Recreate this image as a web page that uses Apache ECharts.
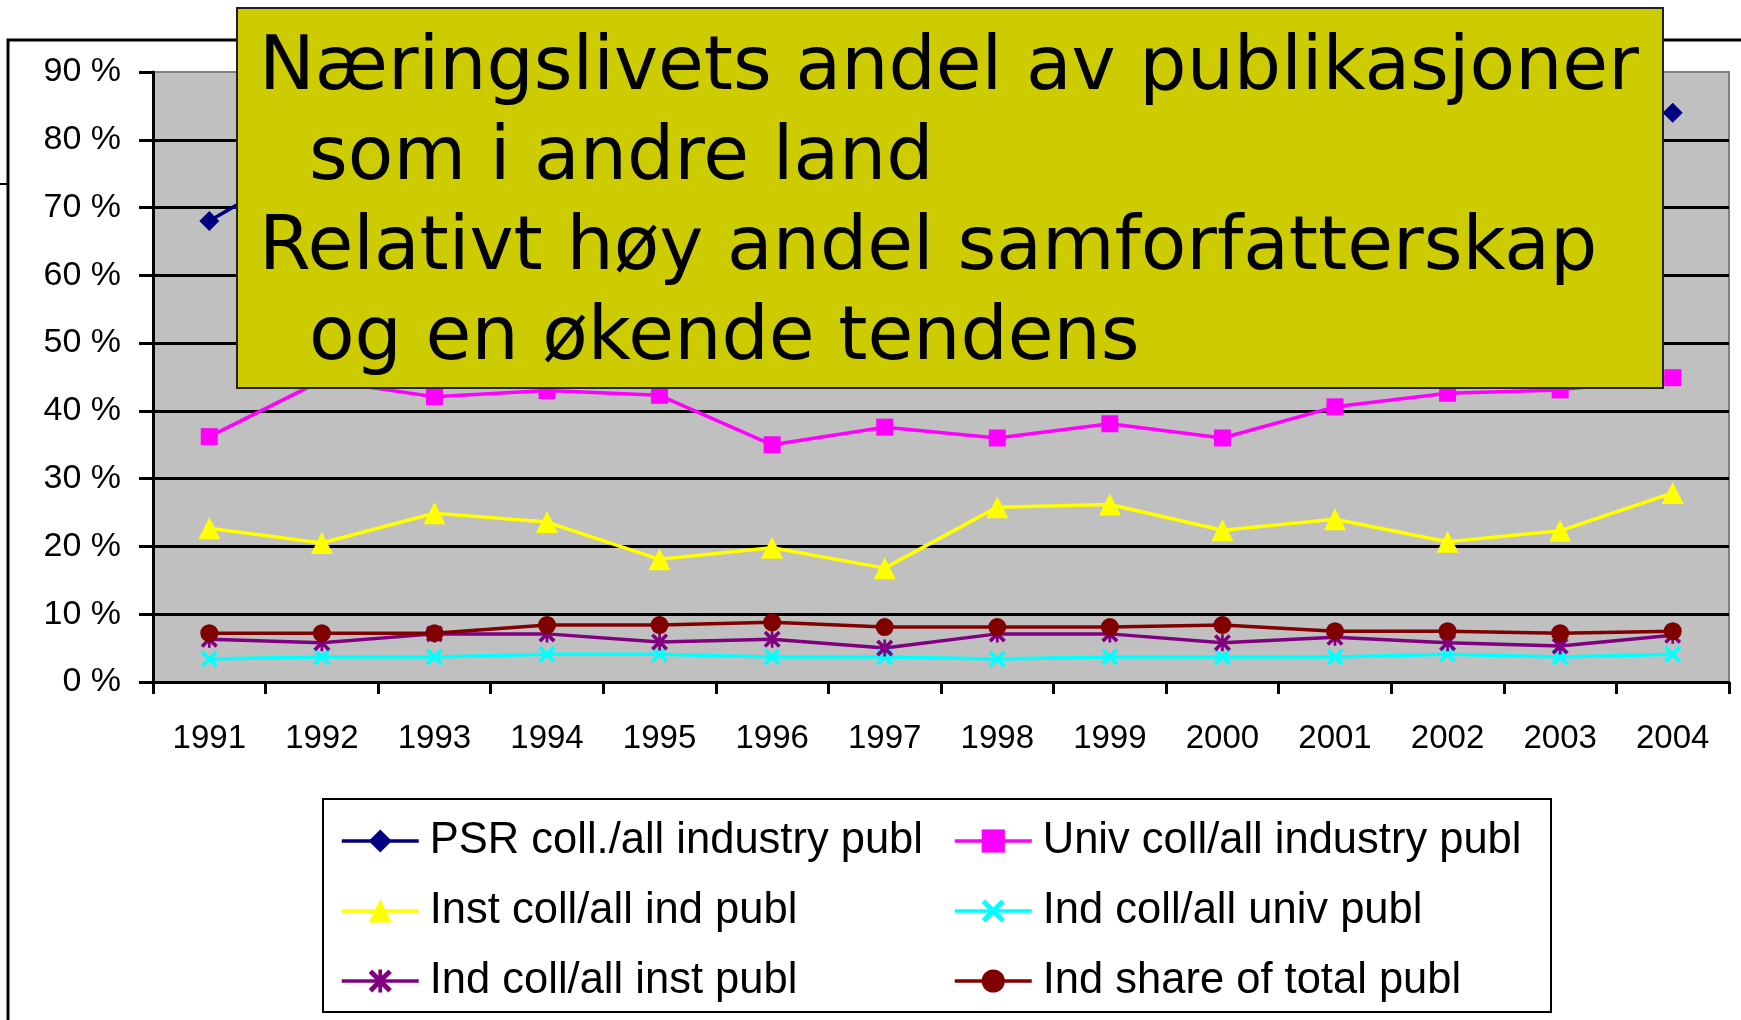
<!DOCTYPE html>
<html>
<head>
<meta charset="utf-8">
<title>Næringslivets andel av publikasjoner</title>
<script src="https://cdn.jsdelivr.net/npm/echarts@6/dist/echarts.min.js"></script>
<style>
  html, body { margin: 0; padding: 0; background: #fff; }
  #chart { width: 1741px; height: 1020px; }
</style>
</head>
<body>
<div id="chart"></div>
<script>
// years on the x axis
var years = ['1991', '1992', '1993', '1994', '1995', '1996', '1997',
             '1998', '1999', '2000', '2001', '2002', '2003', '2004'];

// shares in percent (PSR 1992-2003 is hidden behind the text box)
var psrColl  = [68, 77.7, 77, 78, 79, 77, 79, 78, 80, 79, 81, 82, 83, 84];
var univColl = [36.2, 44.5, 42.1, 43.0, 42.3, 35.0, 37.6, 36.0, 38.1, 36.0, 40.6, 42.6, 43.1, 44.9];
var instColl = [22.7, 20.5, 24.9, 23.6, 18.1, 19.8, 16.8, 25.8, 26.2, 22.4, 24.0, 20.7, 22.3, 27.9];
var indUniv  = [3.4, 3.7, 3.7, 4.1, 4.1, 3.7, 3.7, 3.4, 3.7, 3.7, 3.7, 4.1, 3.7, 4.1];
var indInst  = [6.3, 5.8, 7.1, 7.1, 5.9, 6.3, 5.0, 7.1, 7.1, 5.8, 6.6, 5.8, 5.3, 6.9];
var indShare = [7.2, 7.2, 7.2, 8.4, 8.4, 8.8, 8.1, 8.1, 8.1, 8.4, 7.5, 7.5, 7.2, 7.5];

var names = ['PSR coll./all industry publ', 'Univ coll/all industry publ',
             'Inst coll/all ind publ', 'Ind coll/all univ publ',
             'Ind coll/all inst publ', 'Ind share of total publ'];

var titleLines = ['Næringslivets andel av publikasjoner', 'som i andre land',
                  'Relativt høy andel samforfatterskap', 'og en økende tendens'];

var crossPath = 'path://M0,1.5 L1.5,0 L5,3.5 L8.5,0 L10,1.5 L6.5,5 L10,8.5 L8.5,10 L5,6.5 L1.5,10 L0,8.5 L3.5,5 Z';
var starPath = crossPath + ' M4.2,0 L5.8,0 L5.8,10 L4.2,10 Z';

var chart = echarts.init(document.getElementById('chart'));
var font = '"Liberation Sans", Arial, sans-serif';

function lineSeries(name, data, color, symbol, size) {
  return {
    name: name,
    type: 'line',
    data: data,
    symbol: symbol,
    symbolSize: size,
    showAllSymbol: true,
    lineStyle: { color: color, width: 3.5 },
    itemStyle: { color: color },
    emphasis: { disabled: true }
  };
}

var legendBase = {
  orient: 'vertical',
  top: 819,
  padding: 0,
  itemWidth: 77,
  itemHeight: 29,
  itemGap: 26,
  selectedMode: false,
  lineStyle: { width: 3.5 },
  textStyle: { color: '#000', fontFamily: font, fontSize: 43.5, lineHeight: 43, padding: [0, 0, 0, 6] }
};

var option = {
  animation: false,
  grid: {
    left: 153, right: 12, top: 72, bottom: 338,
    show: true,
    backgroundColor: '#C0C0C0',
    borderColor: '#808080',
    borderWidth: 2
  },
  xAxis: {
    type: 'category',
    data: years,
    boundaryGap: true,
    axisLine: { lineStyle: { color: '#000', width: 3 } },
    axisTick: { show: true, length: 12, lineStyle: { color: '#000', width: 3 } },
    axisLabel: { color: '#000', fontFamily: font, fontSize: 33, margin: 40, interval: 0 },
    splitLine: { show: false }
  },
  yAxis: {
    type: 'value',
    min: 0, max: 90, interval: 10,
    axisLine: { show: true, lineStyle: { color: '#000', width: 3 } },
    axisTick: { show: true, length: 14, lineStyle: { color: '#000', width: 3 } },
    axisLabel: { formatter: '{value} %', color: '#000', fontFamily: font, fontSize: 34, margin: 32 },
    splitLine: { show: true, showMaxLine: false, lineStyle: { color: '#000', width: 3 } }
  },
  legend: [
    Object.assign({}, legendBase, { left: 340, data: [names[0], names[2], names[4]] }),
    Object.assign({}, legendBase, { left: 953, data: [names[1], names[3], names[5]] })
  ],
  series: [
    lineSeries(names[0], psrColl, '#000080', 'diamond', 20),
    lineSeries(names[1], univColl, '#FF00FF', 'rect', 17),
    lineSeries(names[2], instColl, '#FFFF00', 'triangle', 22),
    lineSeries(names[3], indUniv, '#00FFFF', crossPath, 17),
    lineSeries(names[4], indInst, '#800080', starPath, 17),
    lineSeries(names[5], indShare, '#800000', 'circle', 18)
  ],
  graphic: [
    // frame of the embedded chart object
    { type: 'polyline', z: 1, shape: { points: [[8, 1020], [8, 40], [1741, 40]] },
      style: { stroke: '#000', lineWidth: 3, fill: null } },
    { type: 'line', z: 1, shape: { x1: 0, y1: 184, x2: 8, y2: 184 },
      style: { stroke: '#000', lineWidth: 2 } },
    // legend frame
    { type: 'rect', z: 0, shape: { x: 323, y: 799, width: 1228, height: 213 },
      style: { fill: '#fff', stroke: '#000', lineWidth: 2 } },
    // text box on top of the chart
    { type: 'rect', z: 100, shape: { x: 237, y: 8, width: 1426, height: 380 },
      style: { fill: '#CCCC00', stroke: '#222', lineWidth: 2 } },
    { type: 'text', z: 101, x: 259, y: 70,
      style: { text: titleLines[0], font: '74.5px "DejaVu Sans"', fill: '#000', verticalAlign: 'middle' } },
    { type: 'text', z: 101, x: 309, y: 160,
      style: { text: titleLines[1], font: '74.5px "DejaVu Sans"', fill: '#000', verticalAlign: 'middle' } },
    { type: 'text', z: 101, x: 259, y: 250,
      style: { text: titleLines[2], font: '74.5px "DejaVu Sans"', fill: '#000', verticalAlign: 'middle' } },
    { type: 'text', z: 101, x: 309, y: 340,
      style: { text: titleLines[3], font: '74.5px "DejaVu Sans"', fill: '#000', verticalAlign: 'middle' } }
  ]
};

chart.setOption(option);
</script>
</body>
</html>
